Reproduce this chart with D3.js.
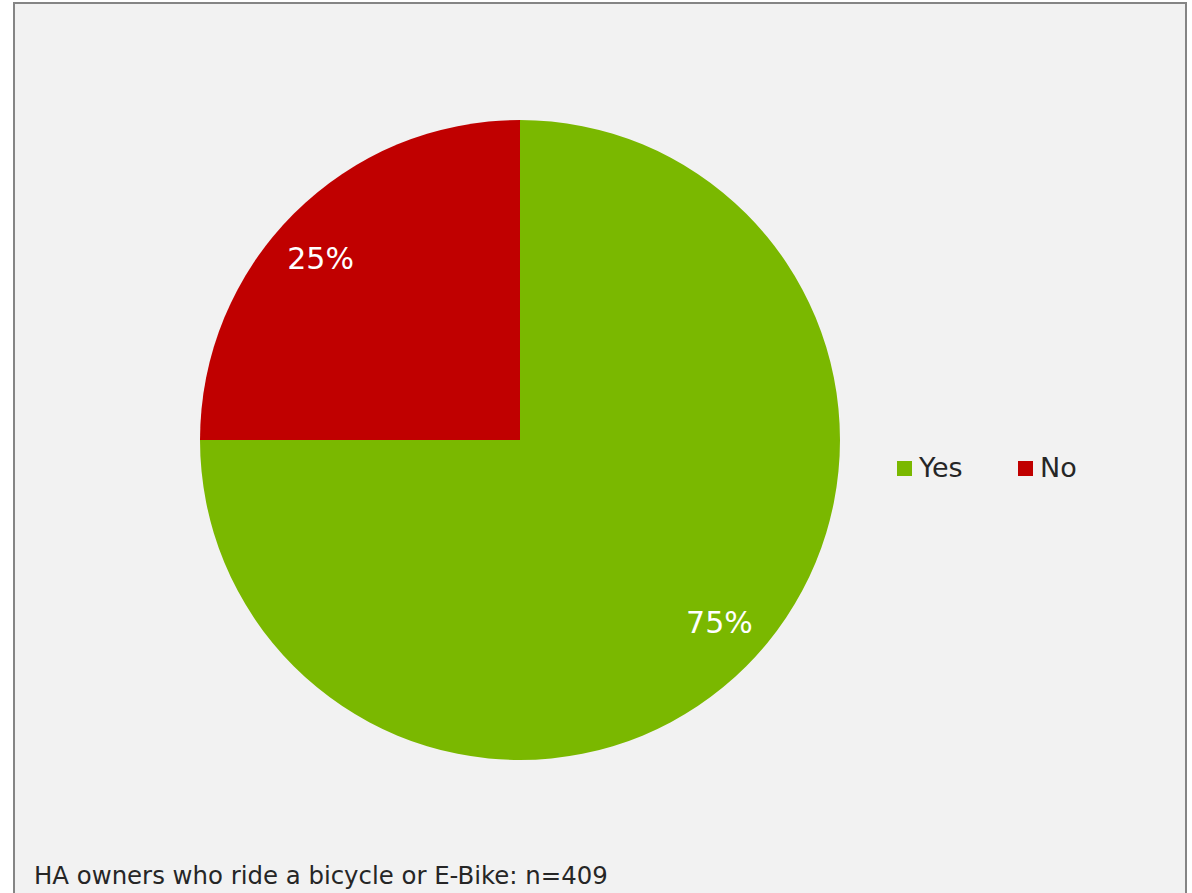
<!DOCTYPE html>
<html>
<head>
<meta charset="utf-8">
<script src="https://cdn.jsdelivr.net/npm/d3@7"></script>
<style>
  html, body { margin: 0; padding: 0; background: #ffffff; }
  svg { display: block; }
</style>
</head>
<body>
<script>
// Share of hearing-aid owners who ride a bicycle or E-Bike
const categories = ["Yes", "No"];
const shares = [75, 25];
const sliceColors = ["#7ab800", "#c00000"];
const footnote = "HA owners who ride a bicycle or E-Bike: n=409";

const width = 1192, height = 893;
const fontStack = "'DejaVu Sans', Verdana, sans-serif";
const svg = d3.select("body").append("svg")
  .attr("width", width).attr("height", height);

// chart area frame
svg.append("rect")
  .attr("x", 14).attr("y", 3)
  .attr("width", 1172).attr("height", 900)
  .attr("fill", "#f2f2f2")
  .attr("stroke", "#858585").attr("stroke-width", 2);

const cx = 520, cy = 440, radius = 320;
const data = categories.map((c, i) => ({ category: c, value: shares[i] }));

const color = d3.scaleOrdinal().domain(categories).range(sliceColors);
const pie = d3.pie().value(d => d.value).sort(null);
const arc = d3.arc().innerRadius(0).outerRadius(radius);

// data labels sit inside each slice, nudged slightly toward the horizontal
const labelRadius = 270;
const labelShift = -2.6 * Math.PI / 180;
function labelPos(d) {
  const a = (d.startAngle + d.endAngle) / 2 + labelShift;
  return [labelRadius * Math.sin(a), -labelRadius * Math.cos(a)];
}

const g = svg.append("g").attr("transform", `translate(${cx},${cy})`);
const arcs = pie(data);

g.selectAll("path.slice")
  .data(arcs)
  .join("path")
  .attr("class", "slice")
  .attr("d", arc)
  .attr("fill", d => color(d.data.category));

g.selectAll("text.pct")
  .data(arcs)
  .join("text")
  .attr("class", "pct")
  .attr("transform", d => `translate(${labelPos(d)})`)
  .attr("text-anchor", "middle")
  .attr("dy", "0.36em")
  .attr("fill", "#ffffff")
  .style("font-family", fontStack)
  .style("font-size", "30px")
  .text(d => d3.format(".0f")(d.data.value) + "%");

// legend
const legendX = d3.scaleOrdinal().domain(categories).range([897, 1018]);
const legend = svg.append("g");
const items = legend.selectAll("g.item")
  .data(categories)
  .join("g")
  .attr("class", "item")
  .attr("transform", d => `translate(${legendX(d)},461)`);
items.append("rect")
  .attr("width", 15).attr("height", 15)
  .attr("fill", d => color(d));
items.append("text")
  .attr("x", 22).attr("y", 16)
  .attr("fill", "#262626")
  .style("font-family", fontStack)
  .style("font-size", "27px")
  .text(d => d);

// sample size note
svg.append("text")
  .attr("x", 34).attr("y", 884)
  .attr("fill", "#262626")
  .style("font-family", fontStack)
  .style("font-size", "24.4px")
  .text(footnote);
</script>
</body>
</html>
